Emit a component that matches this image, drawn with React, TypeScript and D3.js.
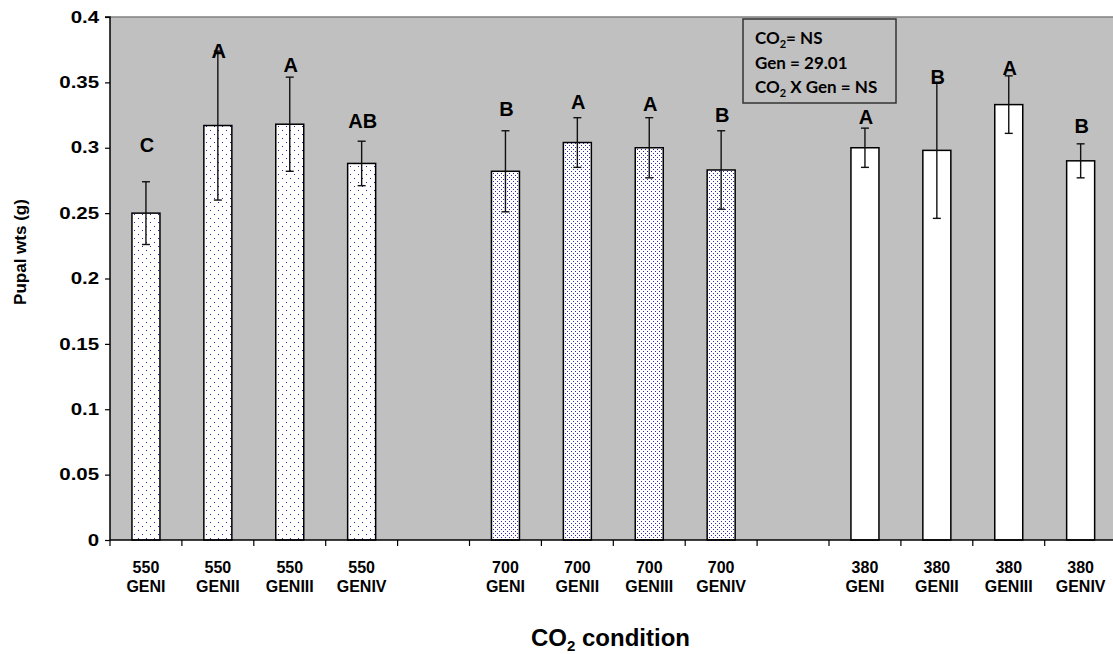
import * as d3 from "d3";
import { useRef, useEffect } from "react";

// groups and generations along the x axis
const co2Levels = ["550", "700", "380"];
const generations = ["GENI", "GENII", "GENIII", "GENIV"];

// mean pupal weight (g) per group, one entry per generation
const means550 = [0.25, 0.317, 0.318, 0.288];
const means700 = [0.282, 0.304, 0.3, 0.283];
const means380 = [0.3, 0.298, 0.333, 0.29];

// error bar half widths
const err550 = [0.024, 0.057, 0.036, 0.017];
const err700 = [0.031, 0.019, 0.023, 0.03];
const err380 = [0.015, 0.052, 0.022, 0.013];

// significance letters and the height (g) they sit at
const letters550 = ["C", "A", "A", "AB"];
const letters700 = ["B", "A", "A", "B"];
const letters380 = ["A", "B", "A", "B"];
const letterAt550 = [0.297, 0.369, 0.358, 0.315];
const letterAt700 = [0.324, 0.33, 0.328, 0.32];
const letterAt380 = [0.318, 0.349, 0.356, 0.311];

const yTicks = [0, 0.05, 0.1, 0.15, 0.2, 0.25, 0.3, 0.35, 0.4];

const W = 1113;
const H = 654;
const ARIAL = "Liberation Sans, Arial, sans-serif";

const App = () => {
    const ref = useRef(null);

    useEffect(() => {
        const svg = d3.select(ref.current);
        svg.selectAll("*").remove();

        const margin = { top: 17, left: 110, bottom: 114 };
        const slotW = 71.9;

        const means = [means550, means700, means380];
        const errs = [err550, err700, err380];
        const letters = [letters550, letters700, letters380];
        const letterAt = [letterAt550, letterAt700, letterAt380];
        const fills = ["url(#sparse)", "url(#dense)", "#ffffff"];

        // build the slots, with an empty slot between groups
        const slots = [];
        const rows = [];
        co2Levels.forEach((c, gi) => {
            if (gi > 0) slots.push("gap" + gi);
            generations.forEach((g, i) => {
                const key = c + "-" + g;
                slots.push(key);
                rows.push({
                    key, co2: c, gen: g,
                    mean: means[gi][i], err: errs[gi][i],
                    letter: letters[gi][i], letterAt: letterAt[gi][i], fill: fills[gi],
                });
            });
        });

        const x = d3.scaleBand()
            .domain(slots)
            .range([margin.left, margin.left + slotW * slots.length])
            .padding(0);
        const y = d3.scaleLinear().domain([0, 0.4]).range([H - margin.bottom, margin.top]);

        // patterns
        const defs = svg.append("defs");
        const sp = defs.append("pattern").attr("id", "sparse").attr("patternUnits", "userSpaceOnUse")
            .attr("width", 8).attr("height", 8);
        sp.append("rect").attr("width", 8).attr("height", 8).attr("fill", "#fff");
        sp.append("rect").attr("x", 2).attr("y", 2).attr("width", 1).attr("height", 1).attr("fill", "#2020a0");
        sp.append("rect").attr("x", 6).attr("y", 6).attr("width", 1).attr("height", 1).attr("fill", "#2020a0");
        const dp = defs.append("pattern").attr("id", "dense").attr("patternUnits", "userSpaceOnUse")
            .attr("width", 4).attr("height", 4);
        dp.append("rect").attr("width", 4).attr("height", 4).attr("fill", "#fff");
        dp.append("rect").attr("x", 1).attr("y", 1).attr("width", 1).attr("height", 1).attr("fill", "#2a2ab0");
        dp.append("rect").attr("x", 3).attr("y", 3).attr("width", 1).attr("height", 1).attr("fill", "#2a2ab0");

        // plot area
        svg.append("rect")
            .attr("x", margin.left).attr("y", margin.top)
            .attr("width", W - margin.left).attr("height", y(0) - margin.top)
            .attr("fill", "#c0c0c0");
        svg.append("line")
            .attr("x1", margin.left).attr("x2", W)
            .attr("y1", margin.top).attr("y2", margin.top)
            .attr("stroke", "#808080").attr("stroke-width", 1.5);

        const barW = 28;
        const g = svg.append("g");
        g.selectAll("rect.bar").data(rows).enter().append("rect")
            .attr("class", "bar")
            .attr("x", d => x(d.key) + (x.bandwidth() - barW) / 2)
            .attr("y", d => y(d.mean))
            .attr("width", barW)
            .attr("height", d => y(0) - y(d.mean))
            .attr("fill", d => d.fill)
            .attr("stroke", "#000").attr("stroke-width", 1.5);

        // error bars
        const cx = d => x(d.key) + x.bandwidth() / 2;
        g.selectAll("line.err").data(rows).enter().append("line")
            .attr("x1", cx).attr("x2", cx)
            .attr("y1", d => y(d.mean + d.err)).attr("y2", d => y(d.mean - d.err))
            .attr("stroke", "#111").attr("stroke-width", 1.4);
        [1, -1].forEach(s => {
            g.selectAll("line.cap" + s).data(rows).enter().append("line")
                .attr("x1", d => cx(d) - 4).attr("x2", d => cx(d) + 4)
                .attr("y1", d => y(d.mean + s * d.err)).attr("y2", d => y(d.mean + s * d.err))
                .attr("stroke", "#111").attr("stroke-width", 1.4);
        });

        // letters
        g.selectAll("text.letter").data(rows).enter().append("text")
            .attr("x", d => cx(d) + 1)
            .attr("y", d => y(d.letterAt))
            .attr("text-anchor", "middle")
            .style("font-family", ARIAL)
            .style("font-weight", "bold").style("font-size", "20px")
            .text(d => d.letter);

        // y axis
        const yAxis = d3.axisLeft(y).tickValues(yTicks).tickSize(5).tickFormat(d => String(d));
        const ya = svg.append("g").attr("transform", `translate(${margin.left},0)`).call(yAxis);
        ya.select(".domain").attr("stroke", "#000").attr("stroke-width", 1.5).attr("d", `M-5,${y(0.4)}H0V${y(0)}`);
        ya.selectAll("text")
            .attr("x", -8.5)
            .attr("transform", "scale(1.28,1)")
            .style("font-family", ARIAL)
            .style("font-weight", "bold").style("font-size", "16px").attr("fill", "#000");
        ya.selectAll(".tick line").attr("stroke", "#000").attr("stroke-width", 1.2);

        // x axis: ticks on slot boundaries
        const xa = svg.append("g");
        xa.append("line").attr("x1", margin.left).attr("x2", W)
            .attr("y1", y(0)).attr("y2", y(0)).attr("stroke", "#000").attr("stroke-width", 1.5);
        xa.selectAll("line.tick").data(slots).enter().append("line")
            .attr("x1", d => x(d)).attr("x2", d => x(d))
            .attr("y1", y(0)).attr("y2", y(0) + 6)
            .attr("stroke", "#000").attr("stroke-width", 1.2);
        const lbl = xa.selectAll("text.xl").data(rows).enter().append("text")
            .attr("text-anchor", "middle")
            .style("font-family", ARIAL)
            .style("font-weight", "bold").style("font-size", "16px");
        lbl.append("tspan").attr("x", cx).attr("y", y(0) + 33).text(d => d.co2);
        lbl.append("tspan").attr("x", cx).attr("y", y(0) + 52).text(d => d.gen);

        // axis titles
        svg.append("text")
            .attr("transform", `translate(26,252) rotate(-90)`)
            .attr("text-anchor", "middle")
            .style("font-family", ARIAL)
            .style("font-weight", "bold").style("font-size", "17px")
            .text("Pupal wts (g)");
        const xt = svg.append("text")
            .attr("x", 531).attr("y", 646)
            .style("font-family", ARIAL)
            .style("font-weight", "bold").style("font-size", "24px");
        xt.append("tspan").text("CO");
        xt.append("tspan").attr("dy", 5).style("font-size", "15px").text("2");
        xt.append("tspan").attr("dy", -5).text(" condition");

        // stats box
        const bx = svg.append("g").attr("transform", "translate(743,19)");
        bx.append("rect").attr("width", 153).attr("height", 84)
            .attr("fill", "#c0c0c0").attr("stroke", "#333").attr("stroke-width", 1.5);
        const boxFont = (t) => t
            .style("font-family", "Lato, Open Sans, sans-serif")
            .style("font-weight", "bold").style("font-size", "17px");
        const l1 = boxFont(bx.append("text").attr("x", 12).attr("y", 25));
        l1.append("tspan").text("CO");
        l1.append("tspan").attr("dy", 4).style("font-size", "11px").text("2");
        l1.append("tspan").attr("dy", -4).text("= NS");
        boxFont(bx.append("text").attr("x", 12).attr("y", 50)).text("Gen = 29.01");
        const l3 = boxFont(bx.append("text").attr("x", 12).attr("y", 74));
        l3.append("tspan").text("CO");
        l3.append("tspan").attr("dy", 4).style("font-size", "11px").text("2");
        l3.append("tspan").attr("dy", -4).text(" X Gen = NS");
    }, []);

    return (
        <svg ref={ref} width={W} height={H}
            style={{ position: "absolute", left: 0, top: 0, background: "#fff" }} />
    );
};

export default App;
